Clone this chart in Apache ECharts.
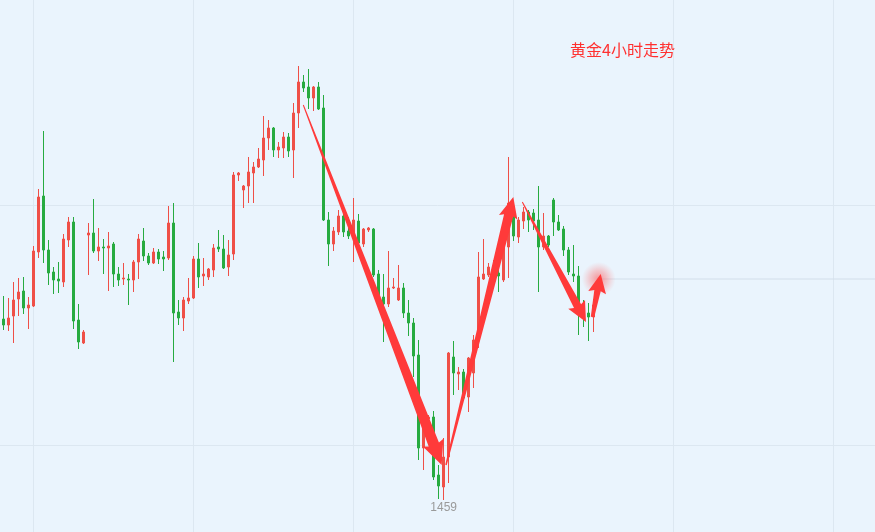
<!DOCTYPE html>
<html>
<head>
<meta charset="utf-8">
<script src="https://cdn.jsdelivr.net/npm/echarts@6/dist/echarts.min.js"></script>
<style>html,body{margin:0;padding:0;background:#eaf4fd;}#c{width:875px;height:532px;}</style>
</head>
<body>
<div id="c"></div>
<script>
// ---- data (gold, 4h candles) ----
const titleText = '黄金4小时走势';
const opens  = [1475.9,1476.6,1476.0,1476.9,1478.6,1479.4,1477.7,1477.9,1483.3,1488.9,1483.5,1481.3,1480.6,1480.3,1484.5,1486.3,1476.5,1474.2,1485.0,1485.2,1483.4,1483.8,1483.7,1484.1,1481.1,1480.6,1480.6,1480.5,1482.3,1484.4,1482.9,1482.2,1483.3,1482.8,1482.7,1486.2,1477.3,1476.7,1478.4,1478.7,1482.6,1480.9,1480.8,1481.5,1483.8,1483.6,1481.8,1483.1,1491.0,1489.5,1489.9,1491.2,1491.8,1492.5,1494.7,1495.7,1493.5,1493.7,1494.8,1493.5,1497.2,1500.3,1499.8,1498.7,1499.8,1497.7,1486.5,1484.1,1485.3,1486.9,1485.4,1485.0,1486.4,1484.1,1485.5,1485.6,1481.1,1478.8,1478.1,1479.7,1478.5,1479.7,1477.2,1476.2,1473.0,1463.7,1466.6,1466.8,1461.0,1459.8,1462.8,1472.8,1471.1,1471.3,1468.8,1471.2,1474.4,1480.6,1481.0,1481.3,1481.2,1480.5,1483.8,1487.0,1484.8,1486.4,1487.3,1487.2,1486.5,1483.8,1484.9,1488.5,1486.3,1485.6,1483.5,1481.1,1480.9,1477.6,1477.2,1476.8];
const closes = [1476.5,1476.0,1476.7,1478.5,1479.3,1477.7,1478.0,1483.4,1488.8,1483.5,1481.2,1480.5,1480.4,1484.6,1486.3,1476.4,1474.3,1475.3,1485.2,1483.4,1483.8,1483.7,1483.9,1481.1,1480.5,1480.7,1480.5,1482.3,1484.6,1482.9,1482.2,1483.3,1482.6,1482.6,1486.2,1477.2,1476.7,1478.5,1478.7,1482.6,1480.8,1481.1,1481.6,1483.7,1483.6,1481.7,1483.0,1491.0,1491.2,1489.9,1491.3,1491.8,1492.6,1494.7,1495.7,1493.5,1493.8,1494.8,1493.4,1497.2,1500.3,1499.7,1498.7,1499.8,1497.6,1486.5,1484.1,1485.4,1486.9,1485.3,1484.9,1486.5,1484.2,1485.6,1485.7,1481.0,1478.8,1478.1,1479.7,1479.8,1479.7,1477.2,1476.2,1472.9,1463.7,1466.0,1466.8,1460.8,1459.9,1462.8,1473.2,1471.2,1471.3,1468.7,1472.7,1474.5,1480.8,1481.1,1481.8,1481.9,1480.9,1483.8,1488.2,1484.9,1486.5,1487.3,1486.5,1486.4,1483.8,1484.9,1484.0,1486.3,1485.5,1483.5,1481.3,1480.9,1477.7,1476.8,1476.8,1478.0];
const lows   = [1474.3,1475.5,1475.4,1474.2,1476.9,1477.1,1475.6,1477.8,1482.7,1482.2,1480.0,1479.1,1479.2,1479.8,1483.8,1475.6,1473.6,1474.1,1481.0,1483.2,1482.4,1481.1,1479.4,1479.8,1479.9,1480.0,1478.0,1479.3,1480.6,1482.4,1482.0,1482.1,1482.1,1481.4,1482.5,1472.3,1476.0,1475.4,1478.1,1478.6,1479.7,1479.9,1480.5,1480.8,1483.3,1481.6,1480.9,1482.5,1490.4,1487.7,1488.2,1488.2,1491.7,1490.9,1493.5,1492.8,1492.7,1492.7,1492.8,1490.7,1495.7,1499.3,1497.6,1497.4,1497.5,1486.4,1481.9,1483.4,1485.0,1484.8,1484.6,1482.3,1483.7,1483.8,1485.3,1480.8,1478.3,1474.3,1477.8,1479.6,1478.4,1476.7,1474.9,1470.8,1462.5,1461.5,1466.4,1460.5,1458.6,1458.5,1460.2,1469.0,1469.5,1468.5,1467.3,1469.7,1473.7,1480.5,1480.8,1480.7,1479.3,1480.3,1480.7,1484.4,1484.2,1485.6,1485.3,1485.5,1479.3,1483.5,1483.8,1484.9,1485.4,1482.9,1481.0,1480.3,1475.0,1475.8,1474.4,1475.3];
const highs  = [1476.9,1478.9,1478.7,1480.3,1480.7,1480.8,1478.8,1483.9,1489.6,1495.4,1484.5,1481.8,1482.3,1485.1,1486.8,1486.8,1478.1,1475.5,1486.2,1488.6,1485.7,1484.6,1485.3,1484.3,1481.8,1482.2,1481.1,1482.5,1485.1,1485.7,1483.2,1483.7,1483.6,1483.4,1487.9,1488.2,1478.5,1478.8,1480.7,1482.9,1484.2,1482.7,1481.7,1484.1,1485.5,1485.0,1484.5,1491.3,1491.3,1490.0,1492.8,1492.3,1493.7,1496.9,1496.5,1495.8,1494.3,1495.3,1495.2,1498.2,1501.9,1501.0,1501.6,1499.9,1500.3,1499.0,1487.3,1485.8,1487.5,1488.0,1486.8,1488.7,1487.1,1485.7,1485.8,1485.7,1481.5,1481.1,1483.4,1480.7,1482.0,1480.2,1478.5,1476.7,1474.5,1466.9,1467.0,1467.4,1462.0,1464.7,1473.3,1474.4,1471.8,1471.6,1472.8,1475.0,1483.3,1484.6,1482.2,1482.5,1483.2,1484.0,1492.8,1487.3,1486.8,1487.8,1487.5,1487.6,1489.9,1487.2,1485.0,1488.7,1487.0,1485.9,1483.8,1484.0,1481.9,1478.5,1478.2,1478.6];
const lastPrice = 1480.6;
const lastIndex = 120;
const slotCount = 177;
// arrows drawn on the chart: [fromIndex, fromPrice, toIndex, toPrice]
const arrows = [
  [60.92, 1498.0, 88.6, 1462.0],
  [89.46, 1462.0, 102.92, 1488.8],
  [104.72, 1488.3, 117.46, 1476.3],
  [118.76, 1476.8, 120.4, 1481.1]
];
const categories = Array.from({length: slotCount}, (_, i) => String(i));
const candleData = opens.map((o, i) => [o, closes[i], lows[i], highs[i]]);

// shapes of the arrows (pixel widths) -- styling only
const arrowShapes = [
  {w0: 1, w1: 11, hl: 22, hw: 22},
  {w0: 1.5, w1: 9.5, hl: 19, hw: 19},
  {w0: 1, w1: 8, hl: 18, hw: 19},
  {w0: 3.5, w1: 6.5, hl: 17, hw: 18}
];

const chart = echarts.init(document.getElementById('c'), null, {renderer: 'canvas'});
const RED = '#ef4f47', GREEN = '#27ab40', ARROW = '#ff3a3a';

function renderArrow(params, api) {
  const s = api.coord([api.value(0), api.value(1)]);
  const t = api.coord([api.value(2), api.value(3)]);
  const sh = arrowShapes[params.dataIndex];
  const dx = t[0] - s[0], dy = t[1] - s[1];
  const len = Math.sqrt(dx * dx + dy * dy);
  const ux = dx / len, uy = dy / len;
  const nx = -uy, ny = ux;
  const bx = t[0] - ux * sh.hl, by = t[1] - uy * sh.hl;
  const pts = [
    [s[0] + nx * sh.w0 / 2, s[1] + ny * sh.w0 / 2],
    [bx + nx * sh.w1 / 2, by + ny * sh.w1 / 2],
    [bx + nx * sh.hw / 2 - ux * 2, by + ny * sh.hw / 2 - uy * 2],
    [t[0], t[1]],
    [bx - nx * sh.hw / 2 - ux * 2, by - ny * sh.hw / 2 - uy * 2],
    [bx - nx * sh.w1 / 2, by - ny * sh.w1 / 2],
    [s[0] - nx * sh.w0 / 2, s[1] - ny * sh.w0 / 2]
  ];
  return {type: 'polygon', shape: {points: pts}, style: {fill: ARROW}};
}

chart.setOption({
  animation: false,
  backgroundColor: '#eaf4fd',
  title: {
    text: titleText, left: 570, top: 42, padding: 0,
    textStyle: {color: '#ff3030', fontSize: 16, fontWeight: 'normal', fontFamily: '"Noto Sans CJK SC", sans-serif'}
  },
  grid: {left: -1.3, right: -3.7, top: -35, bottom: -153, containLabel: false, outerBoundsMode: 'none'},
  xAxis: [{
    type: 'category', data: categories, boundaryGap: false,
    axisLine: {show: false}, axisTick: {show: false}, axisLabel: {show: false},
    splitLine: {show: true, interval: (idx) => (idx - 7) % 32 === 0, lineStyle: {color: '#dce7f1', width: 1}}
  }, {
    type: 'value', min: 0, max: slotCount - 1, show: false, splitLine: {show: false}
  }],
  yAxis: [{
    type: 'value', min: 1440, max: 1512, interval: 24,
    axisLine: {show: false}, axisTick: {show: false}, axisLabel: {show: false},
    splitLine: {show: true, lineStyle: {color: '#dce7f1', width: 1}}
  }],
  series: [
    {
      type: 'candlestick', data: candleData, barWidth: 3,
      itemStyle: {color: RED, color0: GREEN, borderColor: RED, borderColor0: GREEN, borderWidth: 1},
      markPoint: {
        symbol: 'circle', symbolSize: 0,
        label: {show: true, position: 'bottom', distance: 2, color: '#9a9a9a', fontSize: 12,
          fontFamily: 'sans-serif', formatter: (p) => String(Math.round(p.value))},
        data: [{type: 'min', valueDim: 'lowest'}]
      }
    },
    {
      type: 'line', xAxisIndex: 1, yAxisIndex: 0, symbol: 'none',
      data: [[lastIndex, lastPrice], [slotCount - 1, lastPrice]],
      lineStyle: {color: '#d2deea', width: 1}, silent: true
    },
    {
      type: 'custom', xAxisIndex: 1, yAxisIndex: 0, renderItem: renderArrow,
      encode: {x: [0, 2], y: [1, 3]}, data: arrows, clip: false, z: 5
    },
    {
      type: 'scatter', xAxisIndex: 1, yAxisIndex: 0, symbolSize: 34, z: 4,
      data: [[lastIndex, lastPrice]],
      itemStyle: {color: {type: 'radial', x: 0.5, y: 0.5, r: 0.5, colorStops: [
        {offset: 0, color: 'rgba(255,70,70,0.7)'},
        {offset: 0.5, color: 'rgba(255,100,100,0.4)'},
        {offset: 1, color: 'rgba(255,130,130,0)'}
      ]}}
    }
  ]
});
</script>
</body>
</html>
